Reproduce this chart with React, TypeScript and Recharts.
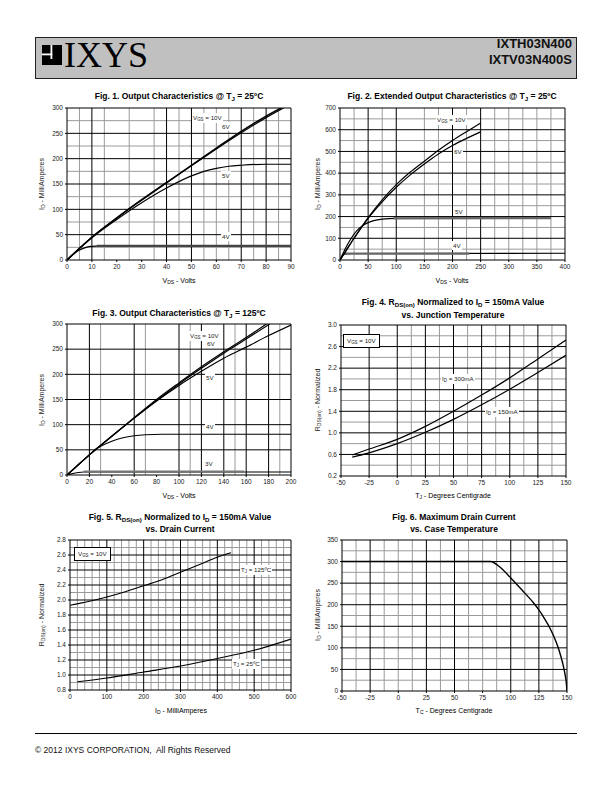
import React from 'react';
import { LineChart, Line, XAxis, YAxis, CartesianGrid } from 'recharts';

const FONT = '"Liberation Sans", Arial, Helvetica, sans-serif';
type P = [number, number];

// ---------- Fig 1 : Output characteristics @ 25C ----------
const fig1XTicks = [0, 10, 20, 30, 40, 50, 60, 70, 80, 90];
const fig1YTicks = [0, 50, 100, 150, 200, 250, 300];
const fig1Vgs10: P[] = [[0, 0], [5, 23], [10, 45], [20, 83], [30, 119], [40, 153], [50, 187], [60, 221], [70, 254], [80, 284], [86, 300]];
const fig1Vgs6: P[] = [[0, 0], [5, 23], [10, 45], [20, 83], [30, 118], [40, 152], [50, 186], [60, 219], [70, 251], [80, 281], [87, 300]];
const fig1Vgs5: P[] = [[0, 0], [5, 23], [10, 44], [20, 80], [30, 113], [40, 142], [50, 166], [55, 175], [60, 181], [65, 185], [70, 187], [80, 189], [90, 189]];
const fig1Vgs4: P[] = [[0, 0], [2, 9], [4, 17], [6, 22], [8, 25.5], [10, 27], [13, 28], [20, 28], [90, 28]];
const fig1Vgs4Thick: P[] = [[12, 28], [90, 28]];

// ---------- Fig 2 : Extended output characteristics ----------
const fig2XTicks = [0, 50, 100, 150, 200, 250, 300, 350, 400];
const fig2YTicks = [0, 100, 200, 300, 400, 500, 600, 700];
const fig2Vgs10: P[] = [[0, 0], [10, 40], [25, 100], [50, 195], [75, 277], [100, 347], [125, 405], [150, 455], [175, 505], [200, 550], [225, 591], [250, 631]];
const fig2Vgs6: P[] = [[0, 0], [10, 40], [25, 100], [50, 192], [75, 268], [100, 335], [125, 392], [150, 442], [175, 488], [200, 527], [225, 560], [250, 590]];
const fig2Vgs5: P[] = [[0, 0], [5, 28], [10, 55], [20, 100], [30, 135], [40, 158], [50, 172], [60, 181], [75, 188], [100, 192], [375, 193]];
const fig2Vgs5Thick: P[] = [[95, 192], [375, 193]];
const fig2Vgs4: P[] = [[0, 0], [3, 15], [6, 24], [10, 28], [20, 30], [400, 31]];
const fig2Vgs4Thick: P[] = [[10, 29], [230, 29]];

// ---------- Fig 3 : Output characteristics @ 125C ----------
const fig3XTicks = [0, 20, 40, 60, 80, 100, 120, 140, 160, 180, 200];
const fig3YTicks = [0, 50, 100, 150, 200, 250, 300];
const fig3Vgs10: P[] = [[0, 0], [20, 40], [40, 77], [60, 114], [80, 150], [100, 183], [120, 215], [140, 245], [160, 273], [178, 300]];
const fig3Vgs6: P[] = [[0, 0], [20, 40], [40, 77], [60, 113], [80, 148], [100, 181], [120, 212], [140, 242], [160, 270], [181, 300]];
const fig3Vgs5: P[] = [[0, 0], [20, 40], [40, 77], [60, 113], [80, 147], [100, 178], [120, 206], [140, 232], [160, 254], [180, 277], [200, 298]];
const fig3Vgs4: P[] = [[0, 0], [10, 20], [20, 40], [25, 50], [30, 57], [40, 67], [50, 74], [60, 78], [70, 80], [85, 81], [200, 81]];
const fig3Vgs3: P[] = [[0, 0], [5, 3], [10, 5], [15, 6], [200, 6]];
const fig3Vgs3Thick: P[] = [[15, 7], [158, 7]];

// ---------- Fig 4 : RDS(on) vs junction temperature ----------
const fig4XTicks = [-50, -25, 0, 25, 50, 75, 100, 125, 150];
const fig4YTicks = [0.2, 0.6, 1.0, 1.4, 1.8, 2.2, 2.6, 3.0];
const fig4Id300: P[] = [[-40, 0.59], [-25, 0.7], [0, 0.88], [25, 1.12], [50, 1.4], [75, 1.7], [100, 2.02], [125, 2.37], [150, 2.72]];
const fig4Id150: P[] = [[-40, 0.55], [-25, 0.63], [0, 0.8], [25, 1.01], [50, 1.25], [75, 1.52], [100, 1.81], [125, 2.12], [150, 2.44]];

// ---------- Fig 5 : RDS(on) vs drain current ----------
const fig5XTicks = [0, 100, 200, 300, 400, 500, 600];
const fig5YTicks = [0.8, 1.0, 1.2, 1.4, 1.6, 1.8, 2.0, 2.2, 2.4, 2.6, 2.8];
const fig5Tj125: P[] = [[0, 1.93], [50, 1.98], [100, 2.04], [150, 2.11], [200, 2.19], [250, 2.27], [300, 2.37], [350, 2.47], [400, 2.57], [437, 2.63]];
const fig5Tj25: P[] = [[20, 0.91], [100, 0.96], [200, 1.04], [300, 1.12], [400, 1.22], [500, 1.33], [600, 1.48]];

// ---------- Fig 6 : Max drain current vs case temperature ----------
const fig6XTicks = [-50, -25, 0, 25, 50, 75, 100, 125, 150];
const fig6YTicks = [0, 50, 100, 150, 200, 250, 300, 350];
const fig6Id: P[] = [[-50, 300], [82, 300], [90, 288], [100, 262], [110, 234], [120, 205], [125, 188], [130, 168], [135, 145], [140, 116], [143, 94], [146, 66], [148, 42], [149.5, 16], [150, 0]];

type Series = { data: P[]; color?: string; width?: number };
type PanelProps = {
  px: number; py: number; pw: number; ph: number;
  xDomain: [number, number]; yDomain: [number, number];
  xTicks: number[]; yTicks: number[];
  xMajor: number[]; xMinor: number[]; yMajor: number[]; yMinor: number[];
  series: Series[];
  yFmt?: (v: number) => string;
};

const tickStyle = { fontSize: 6.5, fill: '#222', fontFamily: FONT };

function Panel(p: PanelProps) {
  const W = p.pw + 40;
  const H = p.ph + 25;
  return (
    <div style={{ position: 'absolute', left: p.px - 30, top: p.py - 5, width: W, height: H }}>
      <LineChart width={W} height={H} margin={{ top: 5, right: 10, bottom: 0, left: 0 }}>
        {(p.xMinor.length > 0 || p.yMinor.length > 0) && (
          <CartesianGrid
            stroke="#9a9a9a"
            strokeWidth={1}
            horizontal={p.yMinor.length > 0}
            vertical={p.xMinor.length > 0}
            horizontalValues={p.yMinor}
            verticalValues={p.xMinor}
          />
        )}
        <CartesianGrid stroke="#000" strokeWidth={1} horizontalValues={p.yMajor} verticalValues={p.xMajor} />
        <XAxis
          type="number" dataKey="x" domain={p.xDomain} ticks={p.xTicks} interval={0}
          allowDataOverflow height={20} tickSize={2} tickMargin={2} stroke="#000"
          tick={tickStyle}
        />
        <YAxis
          type="number" domain={p.yDomain} ticks={p.yTicks} interval={0}
          allowDataOverflow width={30} tickSize={2} tickMargin={2} stroke="#000"
          tick={tickStyle} tickFormatter={p.yFmt}
        />
        {p.series.map((s, i) => (
          <Line
            key={i}
            data={s.data.map(([x, y]) => ({ x, y }))}
            dataKey="y"
            type="monotone"
            stroke={s.color ?? '#000'}
            strokeWidth={s.width ?? 1.2}
            dot={false}
            activeDot={false}
            isAnimationActive={false}
          />
        ))}
      </LineChart>
    </div>
  );
}

const Sub = ({ c }: { c: string }) => (
  <span style={{ fontSize: '0.72em', position: 'relative', top: '0.28em' }}>{c}</span>
);

function CText({ cx, cy, size, bold, children }: { cx: number; cy: number; size: number; bold?: boolean; children: React.ReactNode }) {
  return (
    <div style={{
      position: 'absolute', left: cx - 200, width: 400, top: cy - 7, lineHeight: '14px', height: 14,
      textAlign: 'center', fontSize: size, fontWeight: bold ? 'bold' : 'normal', fontFamily: FONT,
      whiteSpace: 'nowrap', color: '#000',
    }}>{children}</div>
  );
}

function VText({ cx, cy, children }: { cx: number; cy: number; children: React.ReactNode }) {
  return (
    <div style={{
      position: 'absolute', left: cx, top: cy, transform: 'translate(-50%, -50%) rotate(-90deg)',
      fontSize: 7, fontFamily: FONT, whiteSpace: 'nowrap', lineHeight: '9px', color: '#222',
    }}>{children}</div>
  );
}

function Tag({ x, cy, box, children }: { x: number; cy: number; box?: boolean; children: React.ReactNode }) {
  return (
    <div style={{
      position: 'absolute', left: x, top: cy - (box ? 6.5 : 4.5), lineHeight: box ? '11px' : '9px',
      fontSize: 6.2, fontFamily: FONT, whiteSpace: 'nowrap', background: '#fff', color: '#222',
      padding: box ? '0 3px' : '0 1px', border: box ? '1px solid #000' : 'none',
    }}>{children}</div>
  );
}

const f1 = (v: number) => v.toFixed(1);

export default function App() {
  return (
    <div style={{ position: 'absolute', left: 0, top: 0, width: 612, height: 792, background: '#fff', fontFamily: FONT }}>
      {/* Header */}
      <div style={{ position: 'absolute', left: 35, top: 37, width: 542, height: 42, background: '#c0c0c0', border: '1.5px solid #222', boxSizing: 'border-box' }} />
      <svg style={{ position: 'absolute', left: 42, top: 45 }} width={20} height={20}>
        <rect x={0} y={0} width={20} height={20} fill="#000" />
        <rect x={8.5} y={0} width={1.8} height={14} fill="#fff" />
        <rect x={0} y={8.5} width={10.3} height={1.8} fill="#fff" />
      </svg>
      <div style={{ position: 'absolute', left: 64, top: 37, fontFamily: '"Liberation Serif", "Times New Roman", serif', fontSize: 36, lineHeight: '36px', color: '#000' }}>IXYS</div>
      <div style={{ position: 'absolute', left: 372, width: 200, top: 36, textAlign: 'right', fontSize: 13, fontWeight: 'bold', lineHeight: '16px', color: '#111' }}>
        IXTH03N400<br />IXTV03N400S
      </div>

      {/* Fig 1 */}
      <CText cx={179} cy={96} size={8.5} bold>Fig. 1. Output Characteristics @ T<Sub c="J" /> = 25ºC</CText>
      <Panel px={67} py={108} pw={224} ph={152} xDomain={[0, 90]} yDomain={[0, 300]} xTicks={fig1XTicks} yTicks={fig1YTicks}
        xMajor={[10, 40, 50, 70, 80, 90]} xMinor={[5, 15, 25, 35, 45, 55, 60, 65, 75, 85]}
        yMajor={[50, 100, 150, 200, 250, 300]} yMinor={[25, 75, 125, 175, 225, 275]}
        series={[{ data: fig1Vgs4 }, { data: fig1Vgs4Thick, color: '#444', width: 2.2 }, { data: fig1Vgs5 }, { data: fig1Vgs6 }, { data: fig1Vgs10, width: 1.5 }]} />
      <VText cx={42} cy={184}>I<Sub c="D" /> - MilliAmperes</VText>
      <CText cx={179} cy={281} size={7}>V<Sub c="DS" /> - Volts</CText>
      <Tag x={192} cy={117}>V<Sub c="GS" /> = 10V</Tag>
      <Tag x={221} cy={126}>6V</Tag>
      <Tag x={221} cy={175}>5V</Tag>
      <Tag x={221} cy={236}>4V</Tag>

      {/* Fig 2 */}
      <CText cx={452} cy={96} size={8.5} bold>Fig. 2. Extended Output Characteristics @ T<Sub c="J" /> = 25ºC</CText>
      <Panel px={340} py={108} pw={225} ph={152} xDomain={[0, 400]} yDomain={[0, 700]} xTicks={fig2XTicks} yTicks={fig2YTicks}
        xMajor={[50, 100, 200, 250, 400]} xMinor={[25, 75, 150, 175, 225, 275, 300, 325, 350, 375]}
        yMajor={[100, 200, 300, 400, 500, 600, 700]} yMinor={[50, 150, 250, 350, 450, 550, 650]}
        series={[{ data: fig2Vgs4 }, { data: fig2Vgs4Thick, color: '#666', width: 2.2 }, { data: fig2Vgs5 }, { data: fig2Vgs5Thick, color: '#666', width: 2.2 }, { data: fig2Vgs6 }, { data: fig2Vgs10 }]} />
      <VText cx={318} cy={184}>I<Sub c="D" /> - MilliAmperes</VText>
      <CText cx={452} cy={281} size={7}>V<Sub c="DS" /> - Volts</CText>
      <Tag x={436} cy={119}>V<Sub c="GS" /> = 10V</Tag>
      <Tag x={453} cy={151}>6V</Tag>
      <Tag x={454} cy={211}>5V</Tag>
      <Tag x={452} cy={245}>4V</Tag>

      {/* Fig 3 */}
      <CText cx={179} cy={313} size={8.5} bold>Fig. 3. Output Characteristics @ T<Sub c="J" /> = 125ºC</CText>
      <Panel px={67} py={324} pw={224} ph={151} xDomain={[0, 200]} yDomain={[0, 300]} xTicks={fig3XTicks} yTicks={fig3YTicks}
        xMajor={[20, 60, 100, 120, 140, 160, 180, 200]} xMinor={[30, 70, 110, 150, 190]}
        yMajor={[50, 100, 150, 200, 250, 300]} yMinor={[]}
        series={[{ data: fig3Vgs3 }, { data: fig3Vgs3Thick, color: '#777', width: 2.2 }, { data: fig3Vgs4 }, { data: fig3Vgs5 }, { data: fig3Vgs6 }, { data: fig3Vgs10 }]} />
      <VText cx={42} cy={400}>I<Sub c="D" /> - MilliAmperes</VText>
      <CText cx={179} cy={496} size={7}>V<Sub c="DS" /> - Volts</CText>
      <Tag x={189} cy={335}>V<Sub c="GS" /> = 10V</Tag>
      <Tag x={206} cy={343}>6V</Tag>
      <Tag x={205} cy={377}>5V</Tag>
      <Tag x={205} cy={426}>4V</Tag>
      <Tag x={204} cy={463}>3V</Tag>

      {/* Fig 4 */}
      <CText cx={453} cy={302} size={8.5} bold>Fig. 4. R<Sub c="DS(on)" /> Normalized to I<Sub c="D" /> = 150mA Value</CText>
      <CText cx={453} cy={315} size={8.5} bold>vs. Junction Temperature</CText>
      <Panel px={341} py={325} pw={225} ph={151} xDomain={[-50, 150]} yDomain={[0.2, 3.0]} xTicks={fig4XTicks} yTicks={fig4YTicks} yFmt={f1}
        xMajor={[-25, 0, 25, 50, 75, 100, 125, 150]} xMinor={[12.5, 37.5, 62.5, 87.5, 112.5, 137.5]}
        yMajor={[0.6, 1.0, 1.4, 1.8, 2.2, 2.6, 3.0]} yMinor={[0.4, 0.8, 1.2, 1.6, 2.0, 2.4, 2.8]}
        series={[{ data: fig4Id150 }, { data: fig4Id300 }]} />
      <VText cx={318} cy={400}>R<Sub c="DS(on)" /> - Normalized</VText>
      <CText cx={453} cy={496} size={7}>T<Sub c="J" /> - Degrees Centigrade</CText>
      <Tag x={343} cy={340} box>V<Sub c="GS" /> = 10V</Tag>
      <Tag x={441} cy={378}>I<Sub c="D" /> = 300mA</Tag>
      <Tag x={485} cy={411}>I<Sub c="D" /> = 150mA</Tag>

      {/* Fig 5 */}
      <CText cx={180} cy={517} size={8.5} bold>Fig. 5. R<Sub c="DS(on)" /> Normalized to I<Sub c="D" /> = 150mA Value</CText>
      <CText cx={180} cy={529} size={8.5} bold>vs. Drain Current</CText>
      <Panel px={70} py={540} pw={221} ph={150} xDomain={[0, 600]} yDomain={[0.8, 2.8]} xTicks={fig5XTicks} yTicks={fig5YTicks} yFmt={f1}
        xMajor={[100, 200, 300, 400, 500, 600]}
        xMinor={[20, 40, 60, 80, 120, 140, 160, 180, 220, 240, 260, 280, 320, 340, 360, 380, 420, 440, 460, 480, 520, 540, 560, 580]}
        yMajor={[1.0, 1.2, 1.4, 1.6, 1.8, 2.0, 2.2, 2.4, 2.6, 2.8]} yMinor={[0.9, 1.1, 1.3, 1.5, 1.7, 1.9, 2.1, 2.3, 2.5, 2.7]}
        series={[{ data: fig5Tj25 }, { data: fig5Tj125 }]} />
      <VText cx={42} cy={615}>R<Sub c="DS(on)" /> - Normalized</VText>
      <CText cx={181} cy={711} size={7}>I<Sub c="D" /> - MilliAmperes</CText>
      <Tag x={74} cy={553} box>V<Sub c="GS" /> = 10V</Tag>
      <Tag x={240} cy={569}>T<Sub c="J" /> = 125ºC</Tag>
      <Tag x={232} cy={663}>T<Sub c="J" /> = 25ºC</Tag>

      {/* Fig 6 */}
      <CText cx={454} cy={517} size={8.5} bold>Fig. 6. Maximum Drain Current</CText>
      <CText cx={454} cy={529} size={8.5} bold>vs. Case Temperature</CText>
      <Panel px={342} py={540} pw={225} ph={151} xDomain={[-50, 150]} yDomain={[0, 350]} xTicks={fig6XTicks} yTicks={fig6YTicks}
        xMajor={[-25, 25, 50, 100, 125, 150]} xMinor={[-37.5, -12.5, 0, 12.5, 37.5, 62.5, 75, 87.5, 112.5, 137.5]}
        yMajor={[50, 100, 150, 200, 250, 300, 350]} yMinor={[25, 75, 125, 175, 225, 275, 325]}
        series={[{ data: fig6Id, width: 1.4 }]} />
      <VText cx={318} cy={615}>I<Sub c="D" /> - MilliAmperes</VText>
      <CText cx={454} cy={711} size={7}>T<Sub c="C" /> - Degrees Centigrade</CText>

      {/* Footer */}
      <div style={{ position: 'absolute', left: 35, top: 733, width: 542, height: 0, borderTop: '1px solid #000' }} />
      <div style={{ position: 'absolute', left: 35, top: 745, fontSize: 8.5, lineHeight: '10px', color: '#111' }}>
        © 2012 IXYS CORPORATION,&nbsp; All Rights Reserved
      </div>
    </div>
  );
}
